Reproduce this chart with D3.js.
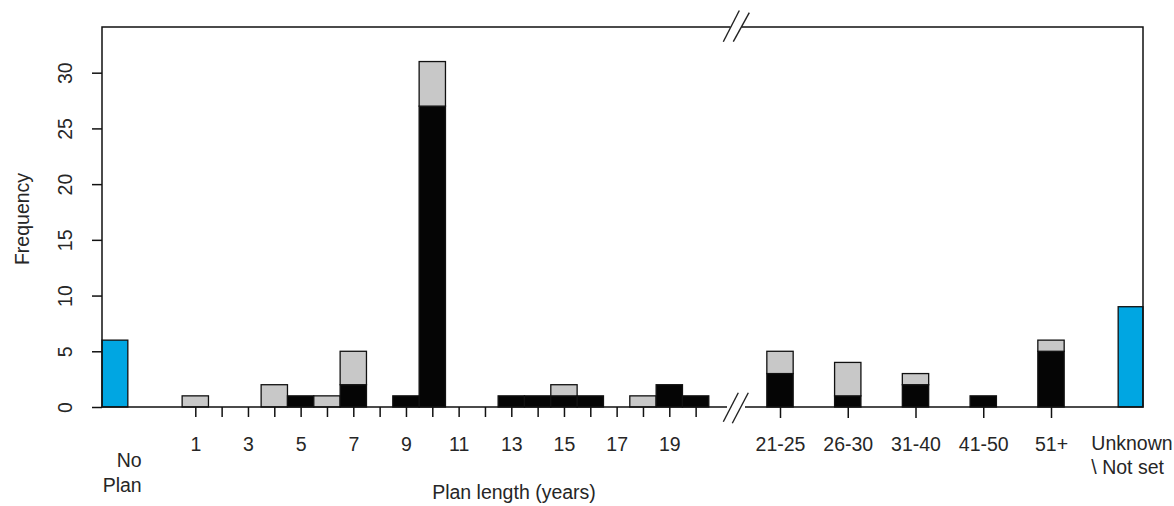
<!DOCTYPE html>
<html>
<head>
<meta charset="utf-8">
<script src="https://cdn.jsdelivr.net/npm/d3@7"></script>
<style>
  html, body { margin: 0; padding: 0; background: #fff; }
  svg { display: block; }
  text { font-family: "Liberation Sans", Arial, sans-serif; fill: #262626; }
</style>
</head>
<body>
<svg id="chart" width="1174" height="506"></svg>
<script>
// Plan lengths in single years (1..20)
const years = [1, 2, 3, 4, 5, 6, 7, 8, 9, 10, 11, 12, 13, 14, 15, 16, 17, 18, 19, 20];
const yearBlack = [0, 0, 0, 0, 1, 0, 2, 0, 1, 27, 0, 0, 1, 1, 1, 1, 0, 0, 2, 1];
const yearGrey  = [1, 0, 0, 2, 0, 1, 3, 0, 0, 4, 0, 0, 0, 0, 1, 0, 0, 1, 0, 0];
const yearTickLabels = [1, 3, 5, 7, 9, 11, 13, 15, 17, 19];

// Longer plans grouped into ranges
const rangeLabels = ["21-25", "26-30", "31-40", "41-50", "51+"];
const rangeBlack = [3, 1, 2, 1, 5];
const rangeGrey  = [2, 3, 1, 0, 1];

// Special categories
const noPlanCount = 6;
const unknownCount = 9;

const yTicks = [0, 5, 10, 15, 20, 25, 30];

// Layout
const plotLeft = 102, plotRight = 1143, plotTop = 27, plotBase = 407;
const fontSize = 19.5;
const colBlack = "#050505", colGrey = "#c8c8c8", colBlue = "#00a6e2";

const svg = d3.select("#chart");

const y = d3.scaleLinear().domain([0, 34.1]).range([plotBase, plotTop]);
const xYear = d3.scaleLinear().domain([1, 19]).range([195.3, 669.3]);
const bw = xYear(2) - xYear(1);
const xRange = d3.scalePoint().domain(rangeLabels).range([780, 1051]);

// Stacked bar helper: black at the bottom, grey on top
function stackBar(g, cx, black, grey) {
  if (black > 0) {
    g.append("rect")
      .attr("x", cx - bw / 2).attr("width", bw)
      .attr("y", y(black)).attr("height", y(0) - y(black))
      .attr("fill", colBlack).attr("stroke", "#111").attr("stroke-width", 1.3);
  }
  if (grey > 0) {
    g.append("rect")
      .attr("x", cx - bw / 2).attr("width", bw)
      .attr("y", y(black + grey)).attr("height", y(black) - y(black + grey))
      .attr("fill", colGrey).attr("stroke", "#111").attr("stroke-width", 1.3);
  }
}

const bars = svg.append("g");
years.forEach((yr, i) => stackBar(bars, xYear(yr), yearBlack[i], yearGrey[i]));
rangeLabels.forEach((r, i) => stackBar(bars, xRange(r), rangeBlack[i], rangeGrey[i]));

// Blue bars for "No Plan" and "Unknown"
const npX = plotLeft + bw / 2 - 0.5;
const unX = plotRight - bw / 2 + 0.5;
bars.append("rect")
  .attr("x", npX - bw / 2 + 0.5).attr("width", bw - 0.5)
  .attr("y", y(noPlanCount)).attr("height", y(0) - y(noPlanCount))
  .attr("fill", colBlue).attr("stroke", "#111").attr("stroke-width", 1.3);
bars.append("rect")
  .attr("x", unX - bw / 2 + 1).attr("width", bw - 1.5)
  .attr("y", y(unknownCount)).attr("height", y(0) - y(unknownCount))
  .attr("fill", colBlue).attr("stroke", "#111").attr("stroke-width", 1.3);

// Frame with axis breaks
const frame = svg.append("g").attr("stroke", "#111").attr("stroke-width", 1.5).attr("fill", "none");
const gapL = 730.5, gapR = 741.5, bgapL = 727, bgapR = 745;
frame.append("path").attr("d",
  `M${gapL},${plotTop}H${plotLeft}V${plotBase}H${bgapL}` +
  `M${bgapR},${plotBase}H${plotRight}V${plotTop}H${gapR}`);

// Break marks
const brk = svg.append("g").attr("stroke", "#222").attr("stroke-width", 1.4);
[[723.3, 41.7, 739.3, 10.5], [733.3, 41.7, 749.3, 12.7],
 [723.3, 421.7, 738.3, 392.7], [732.3, 423.3, 748.3, 392.7]].forEach(s => {
  brk.append("line").attr("x1", s[0]).attr("y1", s[1]).attr("x2", s[2]).attr("y2", s[3]);
});

// x axis (years): tick at every year, label at odd years
const xAxisYears = d3.axisBottom(xYear)
  .tickValues(years)
  .tickSize(10)
  .tickPadding(20)
  .tickFormat(d => yearTickLabels.includes(d) ? d : "");
const gx = svg.append("g").attr("transform", `translate(0,${plotBase})`).call(xAxisYears);
gx.select(".domain").remove();

const xAxisRanges = d3.axisBottom(xRange).tickSize(11).tickPadding(19);
const gr = svg.append("g").attr("transform", `translate(0,${plotBase})`).call(xAxisRanges);
gr.select(".domain").remove();

[gx, gr].forEach(g => {
  g.selectAll(".tick line").attr("stroke", "#111").attr("stroke-width", 1.5);
  g.selectAll(".tick text")
    .attr("font-size", fontSize)
    .attr("font-family", "Liberation Sans, Arial, sans-serif")
    .attr("fill", "#262626");
});

// y axis with rotated labels
const yAxis = d3.axisLeft(y).tickValues(yTicks).tickSize(10).tickPadding(0).tickFormat(d3.format("d"));
const gy = svg.append("g").attr("transform", `translate(${plotLeft},0)`).call(yAxis);
gy.select(".domain").remove();
gy.selectAll(".tick line").attr("stroke", "#111").attr("stroke-width", 1.5);
gy.selectAll(".tick text")
  .attr("x", null).attr("dy", null)
  .attr("transform", "translate(-30,0) rotate(-90)")
  .attr("text-anchor", "middle")
  .attr("font-size", fontSize)
  .attr("font-family", "Liberation Sans, Arial, sans-serif")
  .attr("fill", "#262626");

// Category labels for the special bars
const npLabel = svg.append("text").attr("font-size", fontSize).attr("text-anchor", "end");
npLabel.append("tspan").attr("x", npX + 27).attr("y", 467).text("No");
npLabel.append("tspan").attr("x", npX + 27).attr("y", 492).text("Plan");

const unLabel = svg.append("text").attr("font-size", fontSize).attr("text-anchor", "start");
unLabel.append("tspan").attr("x", unX - 39).attr("y", 450).text("Unknown");
unLabel.append("tspan").attr("x", unX - 39).attr("y", 474).text("\\ Not set");

// Axis titles
svg.append("text")
  .attr("x", 514).attr("y", 499)
  .attr("text-anchor", "middle").attr("font-size", fontSize)
  .text("Plan length (years)");
svg.append("text")
  .attr("transform", `translate(29,${(plotTop + plotBase) / 2 + 2}) rotate(-90)`)
  .attr("text-anchor", "middle").attr("font-size", fontSize)
  .text("Frequency");
</script>
</body>
</html>
